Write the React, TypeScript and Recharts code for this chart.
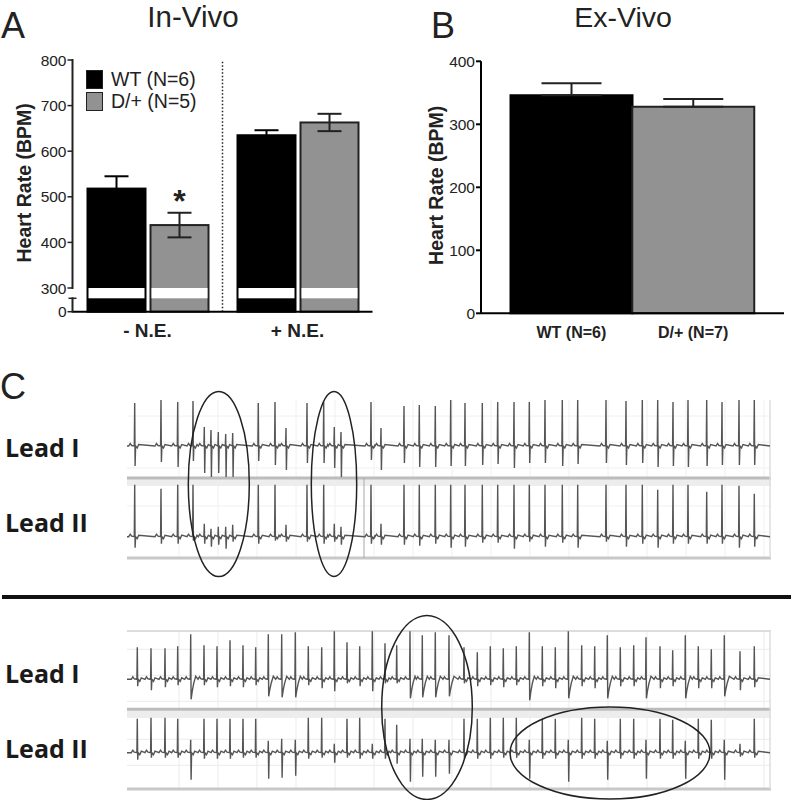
import {
  Bar,
  BarChart,
  CartesianGrid,
  Cell,
  ErrorBar,
  LabelList,
  Legend,
  Line,
  LineChart,
  ReferenceArea,
  ReferenceDot,
  ReferenceLine,
  XAxis,
  YAxis,
} from "recharts";

const INK = "#222";
const BLACK = "#000";
const GRAY = "#929292";
const FONT = "'Liberation Sans', Arial, sans-serif";

// panel A
const inVivoGroups = ["- N.E.", "+ N.E."];
const inVivoWt = [518, 635];
const inVivoWtErr = [27, 11];
const inVivoHet = [438, 663];
const inVivoHetErr = [27, 19];
const inVivoMarks = ["*", ""];
const inVivoTicks = [0, 290, 300, 400, 500, 600, 700, 800];

// panel B
const exVivoGroups = ["WT (N=6)", "D/+ (N=7)"];
const exVivoRates = [346, 328];
const exVivoErr = [19, 12];
const exVivoTicks = [0, 100, 200, 300, 400];

type Beat = [number, number, number]; // time, R height, S depth

const topLeadI: Beat[] = [
  [134.7, 43, 20], [161, 46, 16], [177.7, 44, 21], [193, 45, 15], [204.3, 19, 27], [211, 16, 31],
  [218.3, 14, 27], [225.7, 12, 31], [232.7, 13, 31], [258.3, 43, 15], [275, 44, 19], [286, 18, 24],
  [307, 43, 17], [323.7, 44, 17], [334.3, 19, 22], [341, 14, 31], [371, 44, 14], [381, 18, 24],
  [404, 40, 17], [419.3, 41, 21], [435.3, 40, 21], [450.7, 46, 20], [465, 43, 20], [482.3, 43, 19],
  [497.7, 44, 18], [514, 44, 22], [529.3, 44, 17], [545, 46, 17], [562.3, 46, 20], [577.7, 46, 18],
  [606, 46, 17], [626, 45, 19], [642.3, 46, 17], [657.7, 46, 21], [673, 44, 20], [688, 46, 21],
  [706.7, 46, 20], [722, 44, 19], [739, 46, 19], [754.3, 46, 19],
];

const topLeadII: Beat[] = [
  [134.7, 52, 11], [161, 48, 7], [177.7, 52, 7], [193, 52, 4], [204.3, 13, 7], [211, 8, 10],
  [218.3, 10, 8], [225.7, 10, 12], [232.7, 12, 5], [258.3, 52, 7], [275, 52, 4], [286, 12, 5],
  [307, 52, 5], [323.7, 52, 7], [334.3, 13, 5], [341, 10, 8], [371, 52, 7], [381, 13, 8],
  [404, 52, 8], [419.3, 52, 9], [435.3, 52, 7], [450.7, 52, 11], [465, 52, 10], [482.3, 52, 6],
  [497.7, 52, 6], [514, 52, 12], [529.3, 52, 5], [545, 52, 10], [562.3, 52, 6], [577.7, 52, 11],
  [606, 52, 5], [626, 52, 10], [642.3, 52, 7], [657.7, 47, 11], [673, 52, 7], [688, 52, 7],
  [706.7, 45, 7], [722, 52, 7], [739, 51, 11], [754.3, 43, 10],
];

const bottomLeadI: Beat[] = [
  [137.3, 32, 7], [151, 31, 11], [165, 31, 8], [177.7, 33, 6], [190.7, 45, 20], [204, 34, 6],
  [217, 33, 8], [230, 39, 7], [243, 34, 8], [255.7, 32, 6], [268.3, 45, 17], [281.7, 45, 18],
  [295.3, 47, 18], [308.3, 33, 6], [321.7, 32, 9], [334.3, 48, 12], [347, 37, 4], [359.7, 33, 7],
  [372.3, 48, 12], [385, 36, 4], [396.7, 34, 4], [410, 48, 19], [422.3, 44, 18], [435.3, 47, 18],
  [449, 44, 17], [464, 32, 4], [477.3, 27, 7], [490.3, 33, 6], [503.3, 31, 8], [516.3, 33, 6],
  [529.3, 47, 21], [542.3, 33, 7], [555.3, 32, 9], [568.3, 48, 19], [581.7, 34, 7], [594.7, 33, 9],
  [607.3, 44, 19], [620.3, 32, 7], [633.7, 34, 7], [646, 42, 19], [660, 33, 9], [672.7, 29, 7],
  [685.3, 44, 19], [698.3, 33, 9], [711.3, 30, 9], [724.3, 44, 17], [740, 28, 11], [754.3, 33, 8],
];

const bottomLeadII: Beat[] = [
  [137.3, 34, 7], [151, 35, 5], [165, 35, 5], [177.7, 34, 5], [190.7, 13, 27], [204, 34, 6],
  [217, 34, 6], [230, 34, 6], [243, 34, 5], [255.7, 34, 5], [268.3, 12, 26], [281.7, 14, 25],
  [295.3, 13, 23], [308.3, 35, 6], [321.7, 35, 5], [334.3, 9, 10], [347, 34, 5], [359.7, 35, 6],
  [372.3, 9, 6], [385, 34, 6], [396.7, 28, 11], [410, 14, 29], [422.3, 14, 24], [435.3, 13, 24],
  [449, 13, 21], [464, 34, 6], [477.3, 34, 6], [490.3, 35, 6], [503.3, 35, 5], [516.3, 35, 5],
  [529.3, 13, 26], [542.3, 34, 6], [555.3, 34, 6], [568.3, 13, 29], [581.7, 35, 6], [594.7, 34, 6],
  [607.3, 12, 27], [620.3, 34, 6], [633.7, 34, 6], [646, 13, 26], [660, 34, 6], [672.7, 33, 6],
  [685.3, 12, 26], [698.3, 34, 6], [711.3, 33, 6], [724.3, 13, 27], [740, 9, 4], [754.3, 34, 5],
];

// circled runs: time, level on lead I, half width, half height
const topCircles = [
  [218.8, -38, 30.5, 92.5],
  [334, -38, 22.7, 92.5],
];
const bottomCircles = [
  [427, -28.2, 45.3, 92],
  [610, -73.7, 100, 46],
];

const gridTimes = [
  140, 153, 166, 179, 192, 205, 218, 231, 244, 257, 270, 283, 296, 309, 322, 335, 348, 361, 374, 387, 400,
  413, 426, 439, 452, 465, 478, 491, 504, 517, 530, 543, 556, 569, 582, 595, 608, 621, 634, 647, 660, 673,
  686, 699, 712, 725, 738, 751, 764,
];
const gridLevels = [30, 4, -22, -60, -86];

const inVivoData = inVivoGroups.map((group, i) => ({
  group,
  wt: inVivoWt[i],
  wtErr: inVivoWtErr[i],
  het: inVivoHet[i],
  hetErr: inVivoHetErr[i],
  mark: inVivoMarks[i],
}));

const exVivoData = exVivoGroups.map((group, i) => ({
  group,
  rate: exVivoRates[i],
  err: [0, exVivoErr[i]],
}));

function toTrace(beats: Beat[], slowRecovery = false) {
  const points: { t: number; v: number }[] = [{ t: 127, v: 0 }];
  beats.forEach(([t, up, down], i) => {
    const gap = i > 0 ? t - beats[i - 1][0] : 20;
    if (gap > 9) {
      points.push({ t: t - 6, v: 0 }, { t: t - 4.5, v: 2.5 }, { t: t - 3, v: 0.5 });
    }
    points.push({ t: t - 0.4, v: 0 }, { t, v: up }, { t: t + 0.4, v: -down });
    if (slowRecovery && down >= 15) {
      points.push({ t: t + 1.5, v: -down * 0.6 }, { t: t + 3, v: -down * 0.2 }, { t: t + 5, v: 3 });
    } else {
      points.push({ t: t + 0.9, v: 0 }, { t: t + 2.5, v: -2 }, { t: t + 4, v: 1.5 });
    }
  });
  points.push({ t: 770, v: 0 });
  return points;
}

// broken y axis of panel A: [0, 290] squeezed under [300, 800]
const BREAK_LOW = 290;
const BREAK_HIGH = 300;
const LOW_SHARE = 13.4 / 251.7;
const HIGH_SHARE = 23.7 / 251.7;

function axisShare(v: number) {
  if (v <= BREAK_LOW) return (v / BREAK_LOW) * LOW_SHARE;
  if (v <= BREAK_HIGH) return LOW_SHARE + ((v - BREAK_LOW) / (BREAK_HIGH - BREAK_LOW)) * (HIGH_SHARE - LOW_SHARE);
  return HIGH_SHARE + ((v - BREAK_HIGH) / (800 - BREAK_HIGH)) * (1 - HIGH_SHARE);
}

function brokenScale(dom: number[] = [0, 800], rng: number[] = [1, 0]) {
  const scale: any = (v: number) => rng[0] + axisShare(v) * (rng[1] - rng[0]);
  scale.domain = (d?: number[]) => (d ? brokenScale(d, rng) : dom);
  scale.range = (r?: number[]) => (r ? brokenScale(dom, r) : rng);
  scale.copy = () => brokenScale(dom, rng);
  return scale;
}

const A_TOP = 60;
const A_BOTTOM = 311.7;
const aY = (v: number) => A_BOTTOM - axisShare(v) * (A_BOTTOM - A_TOP);

function BrokenTick({ x, y, payload }: any) {
  const v = payload.value;
  const next = v === 0 ? BREAK_LOW : v === BREAK_HIGH ? 800 : null;
  return (
    <g>
      {next !== null && <line x1={x} x2={x} y1={y + 1} y2={aY(next) - 1} stroke={INK} strokeWidth={2} />}
      {v === BREAK_LOW ? (
        <line x1={x - 4} x2={x + 4} y1={y} y2={y} stroke={INK} strokeWidth={1.5} />
      ) : (
        <>
          <line x1={x - 5} x2={x} y1={y} y2={y} stroke={INK} strokeWidth={1.5} />
          <text x={x - 6} y={y + 5.5} textAnchor="end" fontSize={15.5} fontFamily={FONT} fill={INK}>
            {v}
          </text>
        </>
      )}
    </g>
  );
}

function BrokenBar({ x, y, width, height, fill, stroke }: any) {
  return (
    <g>
      <rect x={x} y={y} width={width} height={height} fill={fill} stroke={stroke} strokeWidth={2} />
      <rect
        x={x + 1}
        y={aY(BREAK_HIGH)}
        width={width - 2}
        height={aY(BREAK_LOW) - aY(BREAK_HIGH)}
        fill="#fff"
      />
    </g>
  );
}

function GroupLegend({ payload }: any) {
  return (
    <div style={{ fontFamily: FONT, fontSize: 19.5, color: INK }}>
      {(payload ?? []).map((entry: any) => (
        <div key={entry.value} style={{ display: "flex", alignItems: "center", height: 21.5 }}>
          <span
            style={{
              width: 15,
              height: 17,
              marginRight: 8,
              background: entry.color,
              border: `1.5px solid ${INK}`,
              display: "inline-block",
            }}
          />
          {entry.value}
        </div>
      ))}
    </div>
  );
}

function InVivoChart() {
  return (
    <div style={{ position: "absolute", left: 0, top: 0 }}>
      <BarChart
        width={400}
        height={350}
        data={inVivoData}
        margin={{ top: A_TOP, right: 27.5, bottom: 8.3, left: 12.5 }}
        barSize={58}
        barGap={5}
      >
        <XAxis
          dataKey="group"
          height={30}
          stroke={BLACK}
          strokeWidth={2}
          tickLine={false}
          tick={{ fontSize: 19, fontWeight: 700, fontFamily: FONT, fill: INK }}
          tickMargin={6}
        />
        <YAxis
          width={60}
          domain={[0, 800]}
          scale={brokenScale()}
          ticks={inVivoTicks}
          interval={0}
          axisLine={false}
          tickLine={false}
          tickSize={0}
          tickMargin={0}
          tick={<BrokenTick />}
          label={{
            value: "Heart Rate (BPM)",
            angle: -90,
            position: "center",
            dx: -18.5,
            dy: -3,
            style: { fontSize: 19.5, fontWeight: 700, fontFamily: FONT, fill: INK },
          }}
        />
        <ReferenceLine
          x={inVivoGroups[0]}
          position="end"
          stroke={INK}
          strokeWidth={1.5}
          strokeDasharray="1.5 2"
        />
        <Legend
          layout="vertical"
          align="center"
          verticalAlign="middle"
          itemSorter={null}
          content={<GroupLegend />}
          wrapperStyle={{ left: 86, top: 69, width: 160 }}
        />
        <Bar dataKey="wt" name="WT (N=6)" fill={BLACK} stroke={BLACK} shape={<BrokenBar />} isAnimationActive={false}>
          <ErrorBar dataKey="wtErr" width={12} strokeWidth={2} stroke={BLACK} direction="y" isAnimationActive={false} />
        </Bar>
        <Bar dataKey="het" name="D/+ (N=5)" fill={GRAY} stroke={INK} shape={<BrokenBar />} isAnimationActive={false}>
          <ErrorBar dataKey="hetErr" width={12} strokeWidth={2} stroke={INK} direction="y" isAnimationActive={false} />
          <LabelList
            dataKey="mark"
            position="top"
            offset={13}
            style={{ fontSize: 32, fontWeight: 700, fontFamily: FONT, fill: INK }}
          />
        </Bar>
      </BarChart>
    </div>
  );
}

function ExVivoChart() {
  return (
    <div style={{ position: "absolute", left: 400, top: 0 }}>
      <BarChart
        width={393}
        height={350}
        data={exVivoData}
        margin={{ top: 61.3, right: 9, bottom: 6.7, left: 21 }}
        barCategoryGap={0}
      >
        <XAxis
          dataKey="group"
          height={30}
          stroke={BLACK}
          strokeWidth={2}
          tickLine={false}
          padding={{ left: 29.5, right: 30 }}
          tick={{ fontSize: 16, fontWeight: 700, fontFamily: FONT, fill: INK }}
          tickMargin={7}
        />
        <YAxis
          width={60}
          domain={[0, 400]}
          ticks={exVivoTicks}
          stroke={BLACK}
          strokeWidth={2}
          tickSize={5}
          tickMargin={1}
          tick={{ fontSize: 15.5, fontFamily: FONT, fill: INK }}
          label={{
            value: "Heart Rate (BPM)",
            angle: -90,
            position: "center",
            dx: -15,
            dy: -2,
            style: { fontSize: 19.5, fontWeight: 700, fontFamily: FONT, fill: INK },
          }}
        />
        <Bar dataKey="rate" strokeWidth={2} isAnimationActive={false}>
          <Cell fill={BLACK} stroke={BLACK} />
          <Cell fill={GRAY} stroke={INK} />
          <ErrorBar dataKey="err" width={30} strokeWidth={2} stroke={INK} direction="y" isAnimationActive={false} />
        </Bar>
      </BarChart>
    </div>
  );
}

function EcgStrip({
  top,
  height,
  marginTop,
  marginBottom,
  leadIDomain,
  leadIIDomain,
  leadI,
  leadII,
  rule,
  band,
  bottomRule,
  topRule,
  circles,
  splitAt,
  gridStroke,
}: any) {
  return (
    <div style={{ position: "absolute", left: 127, top }}>
      <LineChart width={644} height={height} margin={{ top: marginTop, right: 0, bottom: marginBottom, left: 0 }}>
        <XAxis type="number" dataKey="t" domain={[127, 771]} hide allowDataOverflow />
        <YAxis yAxisId="leadI" domain={leadIDomain} hide width={0} allowDataOverflow />
        <YAxis yAxisId="leadII" domain={leadIIDomain} hide width={0} allowDataOverflow />
        <CartesianGrid yAxisId="leadI" stroke={gridStroke} verticalValues={gridTimes} horizontalValues={gridLevels} />
        <ReferenceArea yAxisId="leadI" y1={band[0]} y2={band[1]} fill="#ededed" fillOpacity={1} stroke="none" />
        <ReferenceLine yAxisId="leadI" y={rule} stroke="#bcbcbc" strokeWidth={3} />
        <ReferenceLine yAxisId="leadI" y={bottomRule} stroke="#c8c8c8" strokeWidth={3} ifOverflow="visible" />
        {topRule !== undefined && (
          <ReferenceLine yAxisId="leadI" y={topRule} stroke="#dcdcdc" strokeWidth={2} ifOverflow="visible" />
        )}
        <ReferenceLine yAxisId="leadI" x={770} stroke="#dedede" strokeWidth={1.5} />
        {splitAt !== undefined && (
          <ReferenceLine
            yAxisId="leadI"
            segment={[
              { x: splitAt, y: rule },
              { x: splitAt, y: bottomRule },
            ]}
            stroke="#a8a8a8"
            strokeWidth={1}
          />
        )}
        <Line
          yAxisId="leadI"
          data={leadI}
          dataKey="v"
          type="linear"
          dot={false}
          stroke="#555"
          strokeWidth={1.4}
          isAnimationActive={false}
        />
        <Line
          yAxisId="leadII"
          data={leadII}
          dataKey="v"
          type="linear"
          dot={false}
          stroke="#555"
          strokeWidth={1.4}
          isAnimationActive={false}
        />
        {circles.map(([t, level, rx, ry]: number[]) => (
          <ReferenceDot
            key={t}
            yAxisId="leadI"
            x={t}
            y={level}
            ifOverflow="visible"
            shape={(p: any) => (
              <ellipse cx={p.cx} cy={p.cy} rx={rx} ry={ry} fill="none" stroke={INK} strokeWidth={1.5} />
            )}
          />
        ))}
      </LineChart>
    </div>
  );
}

function Captions() {
  const letter = { fontFamily: FONT, fontSize: 36, fill: INK };
  const lead = { fontFamily: "'Open Sans', sans-serif", fontWeight: 700, fontSize: 25, fill: "#1a1a1a" };
  return (
    <svg width={793} height={800} style={{ position: "absolute", left: 0, top: 0, pointerEvents: "none" }}>
      <text x={1} y={38} {...letter}>A</text>
      <text x={431} y={38} {...letter}>B</text>
      <text x={0} y={399} {...letter}>C</text>
      <text x={193} y={27} textAnchor="middle" fontFamily={FONT} fontSize={29.5} fill={INK}>In-Vivo</text>
      <text x={623} y={27} textAnchor="middle" fontFamily={FONT} fontSize={28.5} fill={INK}>Ex-Vivo</text>
      <text x={5} y={457} {...lead}>Lead I</text>
      <text x={5} y={532} {...lead}>Lead II</text>
      <text x={5} y={683} {...lead}>Lead I</text>
      <text x={5} y={758} {...lead}>Lead II</text>
    </svg>
  );
}

export default function App() {
  return (
    <div style={{ position: "absolute", left: 0, top: 0, width: 793, height: 800, background: "#fff", overflow: "hidden" }}>
      <InVivoChart />
      <ExVivoChart />
      <EcgStrip
        top={380}
        height={200}
        marginTop={20}
        marginBottom={22}
        leadIDomain={[-112, 46]}
        leadIIDomain={[-21.3, 136.7]}
        leadI={toTrace(topLeadI)}
        leadII={toTrace(topLeadII)}
        rule={-32}
        band={[-33, -40]}
        bottomRule={-112}
        circles={topCircles}
        splitAt={364}
        gridStroke="#f0f0f0"
      />
      <EcgStrip
        top={610}
        height={190}
        marginTop={21}
        marginBottom={11}
        leadIDomain={[-109.7, 48.3]}
        leadIIDomain={[-36.3, 121.7]}
        leadI={toTrace(bottomLeadI, true)}
        leadII={toTrace(bottomLeadII)}
        rule={-30}
        band={[-31, -38.7]}
        bottomRule={-109.7}
        topRule={48.3}
        circles={bottomCircles}
        gridStroke="#ebebeb"
      />
      <div style={{ position: "absolute", left: 2, top: 595, width: 789, height: 4, background: "#111" }} />
      <Captions />
    </div>
  );
}
